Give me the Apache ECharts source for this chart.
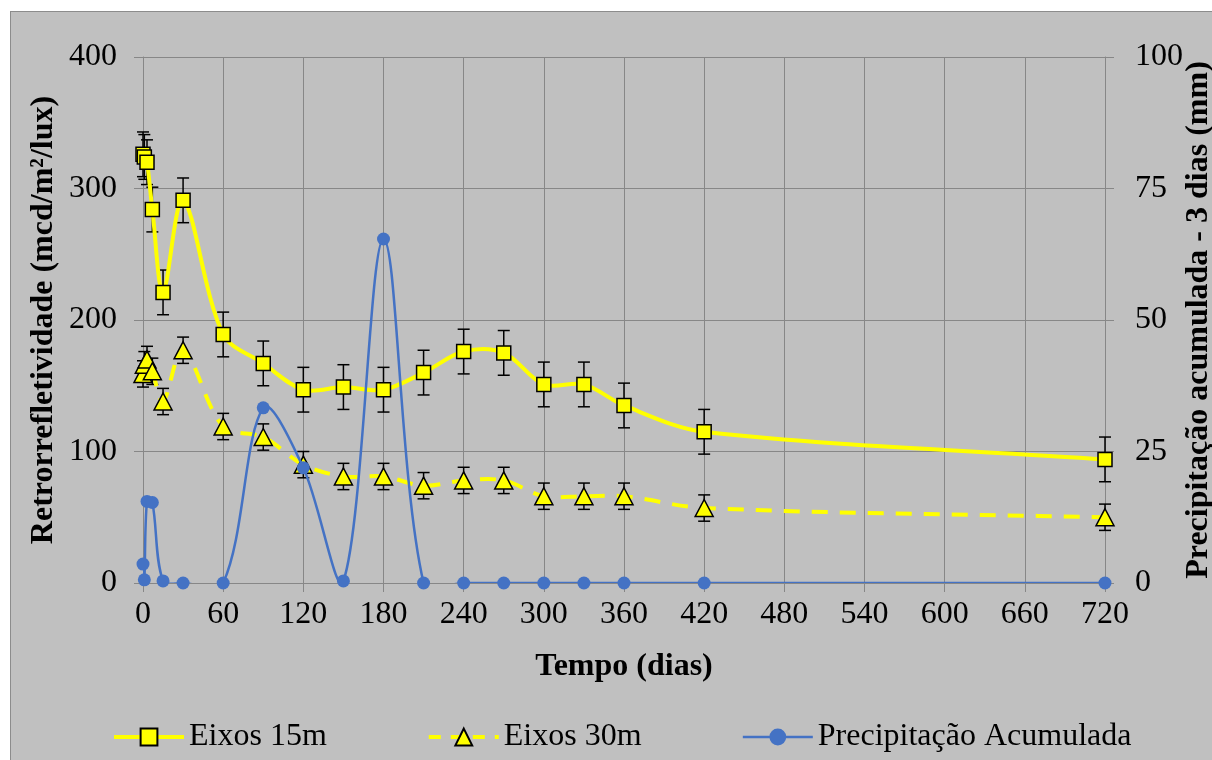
<!DOCTYPE html>
<html>
<head>
<meta charset="utf-8">
<script src="https://cdn.jsdelivr.net/npm/echarts@6/dist/echarts.min.js"></script>
<style>
  html, body { margin: 0; padding: 0; background: #ffffff; overflow: hidden; }
  #frame { position: absolute; left: 10px; top: 11px; width: 1220px; height: 770px;
           background: #c0c0c0; border: 1px solid #8c8c8c; box-sizing: border-box; }
  #chart { position: absolute; left: 0; top: 0; width: 1212px; height: 760px; }
</style>
</head>
<body>
<div id="frame"></div>
<div id="chart"></div>
<script>
// Tempo de ensaio (dias)
const dias = [0, 1, 3, 7, 15, 30, 60, 90, 120, 150, 180, 210, 240, 270, 300, 330, 360, 420, 720];

// Retrorrefletividade média (mcd/m²/lux) e desvio para cada espaçamento de eixos
const eixos15 = [326, 324, 320, 284, 221, 291, 189, 167, 147, 149, 147, 160, 176, 175, 151, 151, 135, 115, 94];
const desvio15 = [17, 17, 17, 17, 17, 17, 17, 17, 17, 17, 17, 17, 17, 17, 17, 17, 17, 17, 17];
const eixos30 = [159, 166, 170, 161, 138, 177, 119, 111, 90, 81, 81, 74, 78, 78, 66, 66, 66, 57, 50];
const desvio30 = [10, 10, 10, 10, 10, 10, 10, 10, 10, 10, 10, 10, 10, 10, 10, 10, 10, 10, 10];

// Precipitação acumulada nos 3 dias anteriores (mm)
const precipitacao = [3.6, 0.6, 15.5, 15.3, 0.4, 0, 0, 33.3, 21.9, 0.4, 65.4, 0, 0, 0, 0, 0, 0, 0, 0];

// Marcas dos eixos
const xTicks = { min: 0, max: 720, interval: 60 };
const yLeftTicks = { min: 0, max: 400, interval: 100 };
const yRightTicks = { min: 0, max: 100, interval: 25 };

const FONT = 'Liberation Serif';
const GRID_COLOR = '#878787';
const YELLOW = '#ffff00';
const BLUE = '#4472c4';
const DASH = [16, 12];
const TENSION = 1 / 3;

const pairs = (xs, ys) => xs.map((x, i) => [x, ys[i]]);
const triples = (xs, ys, es) => xs.map((x, i) => [x, ys[i], es[i]]);

// Barras de erro verticais com traço nas extremidades
function errorBars(params, api) {
  const x = api.value(0), y = api.value(1), e = api.value(2);
  const top = api.coord([x, y + e]);
  const bot = api.coord([x, y - e]);
  const half = 6;
  const style = { stroke: '#000000', lineWidth: 1.5 };
  return {
    type: 'group',
    children: [
      { type: 'line', shape: { x1: top[0], y1: top[1], x2: bot[0], y2: bot[1] }, style },
      { type: 'line', shape: { x1: top[0] - half, y1: top[1], x2: top[0] + half, y2: top[1] }, style },
      { type: 'line', shape: { x1: bot[0] - half, y1: bot[1], x2: bot[0] + half, y2: bot[1] }, style }
    ]
  };
}

// Curva suavizada (Bézier cardinal) passando pelos pontos da série, desenhada uma vez
function smoothCurve(xs, ys, lineStyle) {
  return function (params, api) {
    if (params.dataIndex !== 0) return null;
    const pts = xs.map((x, i) => api.coord([x, ys[i]]));
    const n = pts.length;
    const dist = (a, b) => Math.hypot(b[0] - a[0], b[1] - a[1]);
    const cpIn = [], cpOut = [];
    for (let i = 0; i < n; i++) {
      const p = pts[i];
      const prev = pts[Math.max(0, i - 1)];
      const next = pts[Math.min(n - 1, i + 1)];
      const vx = next[0] - prev[0], vy = next[1] - prev[1];
      const d0 = dist(prev, p), d1 = dist(p, next);
      const sum = d0 + d1 || 1;
      cpIn[i] = [p[0] - vx * TENSION * d0 / sum, p[1] - vy * TENSION * d0 / sum];
      cpOut[i] = [p[0] + vx * TENSION * d1 / sum, p[1] + vy * TENSION * d1 / sum];
    }
    let d = 'M' + pts[0][0] + ' ' + pts[0][1];
    for (let i = 0; i < n - 1; i++) {
      d += ' C' + cpOut[i][0] + ' ' + cpOut[i][1] + ' ' + cpIn[i + 1][0] + ' ' + cpIn[i + 1][1] +
           ' ' + pts[i + 1][0] + ' ' + pts[i + 1][1];
    }
    const cs = params.coordSys;
    return {
      type: 'path',
      shape: { pathData: d },
      style: Object.assign({ fill: null, lineJoin: 'round', lineCap: 'butt' }, lineStyle),
      clipPath: { type: 'rect', shape: { x: cs.x, y: cs.y, width: cs.width, height: cs.height } },
      silent: true
    };
  };
}

const chart = echarts.init(document.getElementById('chart'), null, { renderer: 'canvas' });

chart.setOption({
  backgroundColor: 'transparent',
  animation: false,
  textStyle: { fontFamily: FONT, color: '#000000' },
  grid: { left: 143, right: 107, top: 57, bottom: 177, containLabel: false, outerBoundsMode: 'none' },
  legend: {
    data: [
      { name: 'Eixos 15m', lineStyle: { color: YELLOW, width: 4, opacity: 1, type: 'solid' } },
      { name: 'Eixos 30m', lineStyle: { color: YELLOW, width: 4, opacity: 1, type: [12, 10] } },
      { name: 'Precipitação Acumulada', lineStyle: { color: BLUE, width: 2.5, opacity: 1, type: 'solid' } }
    ],
    left: 107,
    top: 716,
    itemWidth: 70,
    itemHeight: 21,
    itemGap: 100,
    textStyle: { fontFamily: FONT, fontSize: 32, color: '#000000' }
  },
  xAxis: {
    type: 'value',
    min: xTicks.min, max: xTicks.max, interval: xTicks.interval,
    name: 'Tempo (dias)',
    nameLocation: 'middle',
    nameGap: 68,
    nameMoveOverlap: false,
    nameTextStyle: { fontFamily: FONT, fontSize: 32, fontWeight: 'bold', color: '#000000' },
    axisLine: { show: true, onZero: false, lineStyle: { color: GRID_COLOR, width: 1 } },
    axisTick: { show: true, inside: false, length: 9, lineStyle: { color: GRID_COLOR } },
    axisLabel: { fontFamily: FONT, fontSize: 32, color: '#000000', margin: 16 },
    splitLine: { show: true, lineStyle: { color: GRID_COLOR, width: 1 } }
  },
  yAxis: [
    {
      type: 'value',
      position: 'left',
      min: yLeftTicks.min, max: yLeftTicks.max, interval: yLeftTicks.interval,
      name: 'Retrorrefletividade (mcd/m²/lux)',
      nameLocation: 'middle',
      nameGap: 83,
      nameMoveOverlap: false,
      nameTextStyle: { fontFamily: FONT, fontSize: 32, fontWeight: 'bold', color: '#000000' },
      axisLine: { show: true, lineStyle: { color: GRID_COLOR, width: 1 } },
      axisTick: { show: true, length: 9, lineStyle: { color: GRID_COLOR } },
      axisLabel: { fontFamily: FONT, fontSize: 32, color: '#000000', margin: 26 },
      splitLine: { show: true, lineStyle: { color: GRID_COLOR, width: 1 } }
    },
    {
      type: 'value',
      position: 'right',
      min: yRightTicks.min, max: yRightTicks.max, interval: yRightTicks.interval,
      name: 'Precipitação acumulada - 3 dias (mm)',
      nameLocation: 'middle',
      nameGap: 78,
      nameMoveOverlap: false,
      nameTextStyle: { fontFamily: FONT, fontSize: 32, fontWeight: 'bold', color: '#000000' },
      axisLine: { show: true, lineStyle: { color: GRID_COLOR, width: 1 } },
      axisTick: { show: true, length: 9, lineStyle: { color: GRID_COLOR } },
      axisLabel: { fontFamily: FONT, fontSize: 32, color: '#000000', margin: 30 },
      splitLine: { show: false }
    }
  ],
  series: [
    {
      name: 'erro15', type: 'custom', yAxisIndex: 0, z: 1,
      renderItem: errorBars, encode: { x: 0, y: 1 },
      data: triples(dias, eixos15, desvio15), silent: true
    },
    {
      name: 'erro30', type: 'custom', yAxisIndex: 0, z: 1,
      renderItem: errorBars, encode: { x: 0, y: 1 },
      data: triples(dias, eixos30, desvio30), silent: true
    },
    {
      name: 'curva15', type: 'custom', yAxisIndex: 0, z: 2,
      renderItem: smoothCurve(dias, eixos15, { stroke: YELLOW, lineWidth: 4 }),
      encode: { x: 0, y: 1 }, data: pairs(dias, eixos15), silent: true
    },
    {
      name: 'curva30', type: 'custom', yAxisIndex: 0, z: 2,
      renderItem: smoothCurve(dias, eixos30, { stroke: YELLOW, lineWidth: 4, lineDash: DASH }),
      encode: { x: 0, y: 1 }, data: pairs(dias, eixos30), silent: true
    },
    {
      name: 'curvaPrecip', type: 'custom', yAxisIndex: 1, z: 4,
      renderItem: smoothCurve(dias, precipitacao, { stroke: BLUE, lineWidth: 2.5 }),
      encode: { x: 0, y: 1 }, data: pairs(dias, precipitacao), silent: true
    },
    {
      name: 'Eixos 15m', type: 'line', yAxisIndex: 0, z: 3,
      data: pairs(dias, eixos15),
      symbol: 'rect', symbolSize: 14,
      lineStyle: { color: YELLOW, width: 4, opacity: 0 },
      itemStyle: { color: YELLOW, borderColor: '#000000', borderWidth: 1.5 }
    },
    {
      name: 'Eixos 30m', type: 'line', yAxisIndex: 0, z: 3,
      data: pairs(dias, eixos30),
      symbol: 'triangle', symbolSize: [18, 17],
      lineStyle: { color: YELLOW, width: 4, type: DASH, opacity: 0 },
      itemStyle: { color: YELLOW, borderColor: '#000000', borderWidth: 1.5 }
    },
    {
      name: 'Precipitação Acumulada', type: 'line', yAxisIndex: 1, z: 5,
      data: pairs(dias, precipitacao),
      symbol: 'circle', symbolSize: 13,
      lineStyle: { color: BLUE, width: 2.5, opacity: 0 },
      itemStyle: { color: BLUE, borderWidth: 0 }
    }
  ]
});
</script>
</body>
</html>
